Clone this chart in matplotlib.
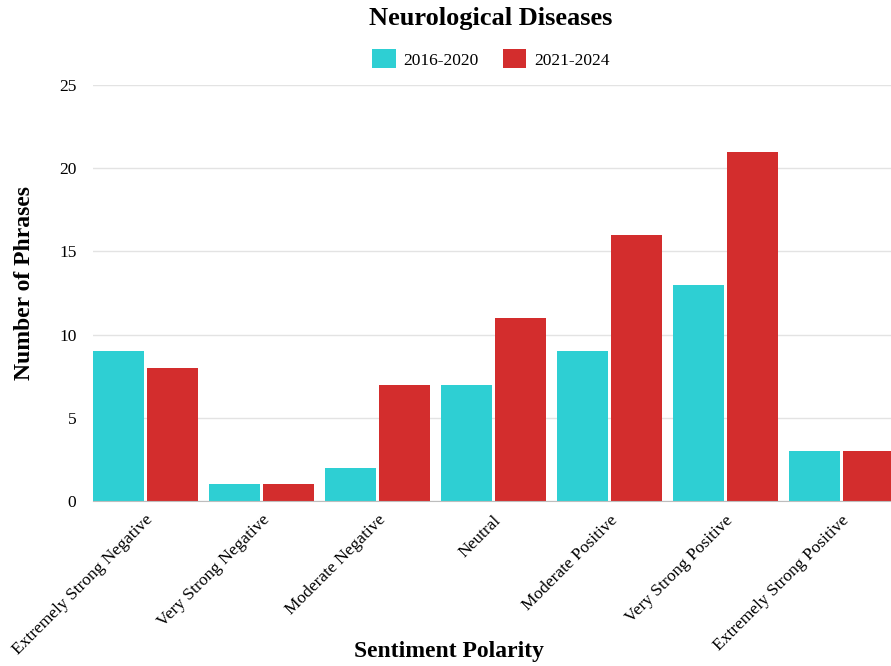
import matplotlib.pyplot as plt
import numpy as np

categories = ["Extremely Strong Negative", "Very Strong Negative", "Moderate Negative",
              "Neutral", "Moderate Positive", "Very Strong Positive", "Extremely Strong Positive"]
series_names = ["2016-2020", "2021-2024"]
values_2016_2020 = [9, 1, 2, 7, 9, 13, 3]
values_2021_2024 = [8, 1, 7, 11, 16, 21, 3]
y_ticks = [0, 5, 10, 15, 20, 25]

CYAN = "#2ECFD3"
RED = "#D32D2D"

plt.rcParams["font.family"] = ["Liberation Serif", "DejaVu Serif"]

W, H = 891, 666
fig = plt.figure(figsize=(W / 100, H / 100), dpi=100)
# plot area runs past the right edge, as in the reference
ax = fig.add_axes([93 / W, (H - 501) / H, 812 / W, 416 / H])

x = np.arange(len(categories))
bw = 0.44
ax.bar(x + bw / 2, values_2016_2020, width=bw, color=CYAN, label=series_names[0], zorder=3)
ax.bar(x + bw * 1.5 + 0.026, values_2021_2024, width=bw, color=RED, label=series_names[1], zorder=3)

ax.set_xlim(0, len(categories))
ax.set_ylim(0, 25)
ax.set_yticks(y_ticks)
ax.set_yticklabels([str(t) for t in y_ticks], fontsize=12.5)
ax.set_xticks(x + 0.45)
ax.set_xticklabels(categories, rotation=45, ha="right", rotation_mode="anchor", fontsize=12.5)
ax.tick_params(axis="both", length=0, pad=12)
ax.tick_params(axis="x", pad=8)

ax.grid(axis="y", color="#E3E3E3", linewidth=1, zorder=0)
for s in ["top", "right", "left"]:
    ax.spines[s].set_visible(False)
ax.spines["bottom"].set_color("#BDBDBD")
ax.spines["bottom"].set_zorder(4)

fig.text(491 / W, 1 - 18 / H, "Neurological Diseases", ha="center", va="center",
         fontsize=19, fontweight="bold")
fig.text(449 / W, 1 - 651 / H, "Sentiment Polarity", ha="center", va="center",
         fontsize=17, fontweight="bold")
fig.text(25 / W, 1 - 283 / H, "Number of Phrases", ha="center", va="center",
         rotation=90, fontsize=17, fontweight="bold")

fig.legend(loc="center", bbox_to_anchor=(491 / W, 1 - 59 / H), ncol=2, frameon=False,
           fontsize=12.5, handlelength=1.35, handleheight=1.3, columnspacing=1.4,
           handletextpad=0.45)

fig.savefig("out.png", dpi=100, facecolor="white")
